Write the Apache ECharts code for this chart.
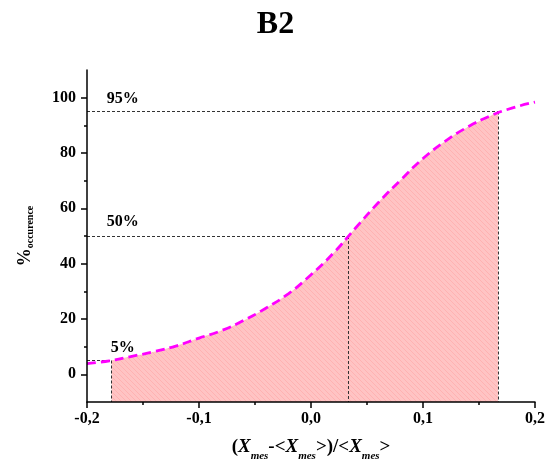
<!DOCTYPE html>
<html>
<head>
<meta charset="utf-8">
<script src="https://cdn.jsdelivr.net/npm/echarts@6/dist/echarts.min.js"></script>
<style>
html,body{margin:0;padding:0;background:#fff;}
#chart{width:551px;height:459px;}
</style>
</head>
<body>
<div id="chart"></div>
<script>
// ---- data ----
const titleText = 'B2';
const xValues = [-0.20,-0.18,-0.16,-0.14,-0.12,-0.10,-0.08,-0.06,-0.04,-0.02,0.00,0.02,0.04,0.06,0.08,0.10,0.12,0.14,0.16,0.18,0.20];
const curveValues = [3.9,4.9,6.5,8.2,10.3,13.1,15.8,19.5,24.0,29.2,36.0,43.8,53.0,62.0,70.2,78.0,84.3,89.4,93.4,96.3,98.4];
const pctLevels = [5, 50, 95];
const pctX = [-0.178, 0.033, 0.167];
const pctLabels = ['5%', '50%', '95%'];
const pctLabelX = [-0.168, -0.168, -0.168];
const pctLabelY = [9.4, 55.1, 99.6];
const xTicks = [-0.2, -0.1, 0.0, 0.1, 0.2];
const yTicks = [0, 20, 40, 60, 80, 100];
const xRange = [-0.2, 0.2];
const yRange = [-10, 110];

const SERIF = '"Liberation Serif","Times New Roman",serif';

// hatch pattern for the filled area
function makePattern() {
  const c = document.createElement('canvas');
  c.width = 5; c.height = 5;
  const g = c.getContext('2d');
  g.fillStyle = '#ffc4c4';
  g.fillRect(0, 0, 5, 5);
  g.strokeStyle = '#ffb2b2';
  g.lineWidth = 1;
  g.beginPath();
  g.moveTo(-1, -1); g.lineTo(6, 6);
  g.stroke();
  return c;
}

const curveData = xValues.map((x, i) => [x, curveValues[i]]);
const fillData = [[pctX[0], pctLevels[0]]]
  .concat(curveData.filter(p => p[0] > pctX[0] + 1e-9 && p[0] < pctX[2] - 1e-9))
  .concat([[pctX[2], pctLevels[2]]]);

const refLines = [];
pctLevels.forEach((lv, i) => {
  refLines.push([{coord: [xRange[0], lv]}, {coord: [pctX[i], lv]}]);
  refLines.push([{coord: [pctX[i], lv]}, {coord: [pctX[i], yRange[0]]}]);
});

const labelData = pctLabels.map((t, i) => ({
  value: [pctLabelX[i], pctLabelY[i]],
  name: t
}));

const chart = echarts.init(document.getElementById('chart'), null, {renderer: 'canvas'});
chart.setOption({
  animation: false,
  backgroundColor: '#fff',
  title: {
    text: titleText,
    left: 'center',
    top: 4,
    textStyle: {fontFamily: SERIF, fontWeight: 'bold', fontSize: 32, color: '#000'}
  },
  grid: {left: 87, right: 16, top: 70, bottom: 57, containLabel: false, outerBoundsMode: 'none'},
  xAxis: {
    type: 'value',
    min: xRange[0], max: xRange[1], interval: 0.1,
    z: 10,
    axisLine: {show: true, onZero: false, lineStyle: {color: '#000', width: 1.5}},
    axisTick: {show: true, length: 6, inside: false, customValues: xTicks, lineStyle: {color: '#000', width: 1.5}},
    minorTick: {show: true, splitNumber: 2, length: 3, lineStyle: {color: '#000', width: 1.5}},
    splitLine: {show: false},
    axisLabel: {
      customValues: xTicks,
      margin: 9,
      fontFamily: SERIF, fontWeight: 'bold', fontSize: 16, color: '#000',
      formatter: v => v.toFixed(1).replace('.', ',')
    },
    name: '{n|(}{i|X}{s|mes}{n|-<}{i|X}{s|mes}{n|>)/<}{i|X}{s|mes}{n|>}',
    nameLocation: 'middle',
    nameGap: 31,
    nameTextStyle: {
      rich: {
        n: {fontFamily: SERIF, fontWeight: 'bold', fontSize: 19, color: '#000'},
        i: {fontFamily: SERIF, fontWeight: 'bold', fontStyle: 'italic', fontSize: 19, color: '#000'},
        s: {fontFamily: SERIF, fontWeight: 'bold', fontStyle: 'italic', fontSize: 11, color: '#000', padding: [18, 0, 0, 0]}
      }
    }
  },
  yAxis: {
    type: 'value',
    min: yRange[0], max: yRange[1], splitNumber: 6,
    z: 10,
    axisLine: {show: true, onZero: false, lineStyle: {color: '#000', width: 1.5}},
    axisTick: {show: true, length: 6, customValues: yTicks, lineStyle: {color: '#000', width: 1.5}},
    minorTick: {show: true, splitNumber: 2, length: 3, lineStyle: {color: '#000', width: 1.5}},
    splitLine: {show: false},
    axisLabel: {
      customValues: yTicks,
      margin: 11,
      fontFamily: SERIF, fontWeight: 'bold', fontSize: 16, color: '#000'
    },
    name: '{p|%}{s|occurence}',
    nameLocation: 'middle',
    nameGap: 52,
    nameTextStyle: {
      rich: {
        p: {fontFamily: SERIF, fontWeight: 'bold', fontSize: 18, color: '#000'},
        s: {fontFamily: SERIF, fontWeight: 'bold', fontSize: 10, color: '#000', padding: [10, 0, 0, 0]}
      }
    }
  },
  series: [
    {
      type: 'line',
      data: fillData,
      smooth: true,
      showSymbol: false,
      symbol: 'none',
      lineStyle: {width: 0, opacity: 0},
      areaStyle: {origin: 'start', opacity: 1, color: {image: makePattern(), repeat: 'repeat'}},
      z: 1,
      silent: true
    },
    {
      type: 'line',
      data: curveData,
      smooth: true,
      showSymbol: false,
      symbol: 'none',
      lineStyle: {color: '#ff00ff', width: 2.8, type: [9, 5]},
      z: 3,
      markLine: {
        silent: true,
        symbol: ['none', 'none'],
        label: {show: false},
        lineStyle: {color: '#333', width: 1, type: [3, 2]},
        data: refLines,
        z: 2
      }
    },
    {
      type: 'scatter',
      data: labelData,
      symbolSize: 1,
      itemStyle: {color: 'rgba(0,0,0,0)', opacity: 1},
      z: 5,
      silent: true,
      label: {
        show: true,
        position: 'inside',
        opacity: 1,
        formatter: p => p.name,
        fontFamily: SERIF, fontWeight: 'bold', fontSize: 16, color: '#000'
      }
    }
  ]
});
</script>
</body>
</html>
